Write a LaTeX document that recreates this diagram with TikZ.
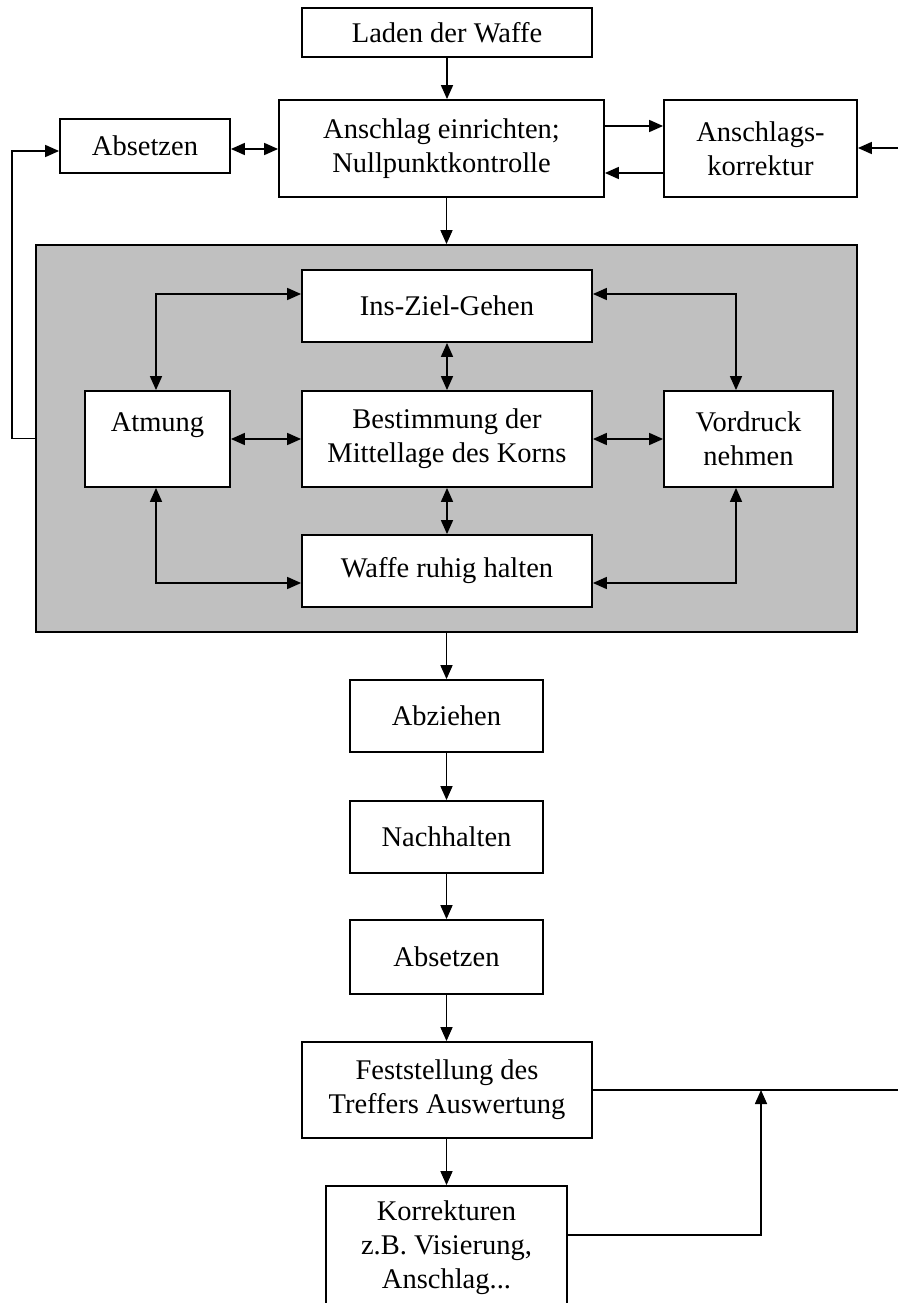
\documentclass[tikz,border=0pt]{standalone}
\usepackage{fontspec}
\setmainfont{Liberation Serif}
\usetikzlibrary{arrows.meta}
\definecolor{panelgray}{RGB}{192,192,192}
\begin{document}
\begin{tikzpicture}[x=1pt,y=-1pt,
  box/.style={draw, line width=1.8pt, fill=white, align=center, inner sep=0pt,
    font=\fontsize{28.5}{34}\selectfont},
  panel/.style={draw, line width=1.8pt, fill=panelgray, inner sep=0pt},
  conn/.style={line width=1.6pt},
  arr/.style={conn, -{Triangle[length=14pt,width=12pt]}},
  darr/.style={conn, {Triangle[length=14pt,width=12pt]}-{Triangle[length=14pt,width=12pt]}},
]
\useasboundingbox (0,0) rectangle (898,1303);

% top part
\node[box, minimum width=290pt, minimum height=49pt] (laden) at (447,32.5) {Laden der Waffe};
\node[box, minimum width=325pt, minimum height=97pt] (anschlag) at (441.5,148.5) {Anschlag einrichten;\\Nullpunktkontrolle};
\node[box, minimum width=170pt, minimum height=54pt] (abs1) at (145,146) {Absetzen};
\node[box, minimum width=193pt, minimum height=97pt] (korr) at (760.5,148.5) {Anschlags-\\korrektur};

% gray panel
\node[panel, minimum width=821pt, minimum height=387pt] (gray) at (446.5,438.5) {};
\node[box, minimum width=290pt, minimum height=72pt] (ziel) at (447,306) {Ins-Ziel-Gehen};
\node[box, minimum width=145pt, minimum height=96pt] (atm) at (157.5,439) {Atmung\\\mbox{}};
\node[box, minimum width=290pt, minimum height=96pt] (best) at (447,439) {Bestimmung der\\Mittellage des Korns};
\node[box, minimum width=169pt, minimum height=96pt] (vord) at (748.5,439) {Vordruck\\nehmen};
\node[box, minimum width=290pt, minimum height=72pt] (waffe) at (447,571) {Waffe ruhig halten};

% lower chain
\node[box, minimum width=193pt, minimum height=72pt] (abz) at (446.5,716) {Abziehen};
\node[box, minimum width=193pt, minimum height=72pt] (nach) at (446.5,837) {Nachhalten};
\node[box, minimum width=193pt, minimum height=74pt] (abs2) at (446.5,957) {Absetzen};
\node[box, minimum width=290pt, minimum height=96pt] (fest) at (447,1090) {Feststellung des\\Treffers Auswertung};
\node[box, minimum width=241pt, minimum height=124pt] (korrb) at (446.5,1248) {Korrekturen\\z.B. Visierung,\\Anschlag...};

% coordinates
\coordinate (rin) at (898,148);
\coordinate (l1) at (12,438.5);
\coordinate (l2) at (12,151);
\coordinate (rout) at (898,1090);
\coordinate (up) at (761,1090);

% top connectors
\draw[arr] (laden.south) -- (laden.south |- anschlag.north);
\draw[arr] (anschlag.south -| gray.north) -- (gray.north);
\draw[darr] (abs1.east |- 0,149) -- (anschlag.west |- 0,149);
\draw[arr] (anschlag.east |- 0,126) -- (korr.west |- 0,126);
\draw[arr] (korr.west |- 0,173) -- (anschlag.east |- 0,173);
\draw[arr] (rin) -- (rin -| korr.east);
\draw[arr] (gray.west) -- (l1) -- (l2) -- (l2 -| abs1.west);

% panel connectors
\draw[darr] (ziel.west |- 0,294) -| (156,0 |- atm.north);
\draw[darr] (ziel.east |- 0,294) -| (736,0 |- vord.north);
\draw[darr] (atm.east) -- (best.west);
\draw[darr] (best.east) -- (vord.west);
\draw[darr] (ziel.south) -- (best.north);
\draw[darr] (best.south) -- (waffe.north);
\draw[darr] (156,0 |- atm.south) |- (waffe.west |- 0,583);
\draw[darr] (736,0 |- vord.south) |- (waffe.east |- 0,583);

% lower connectors
\draw[arr] (gray.south -| abz.north) -- (abz.north);
\draw[arr] (abz.south) -- (nach.north);
\draw[arr] (nach.south) -- (abs2.north);
\draw[arr] (abs2.south) -- (abs2.south |- fest.north);
\draw[arr] (fest.south -| korrb.north) -- (korrb.north);
\draw[conn] (fest.east) -- (rout);
\draw[arr] (korrb.east |- 0,1235) -| (up);
\end{tikzpicture}
\end{document}
